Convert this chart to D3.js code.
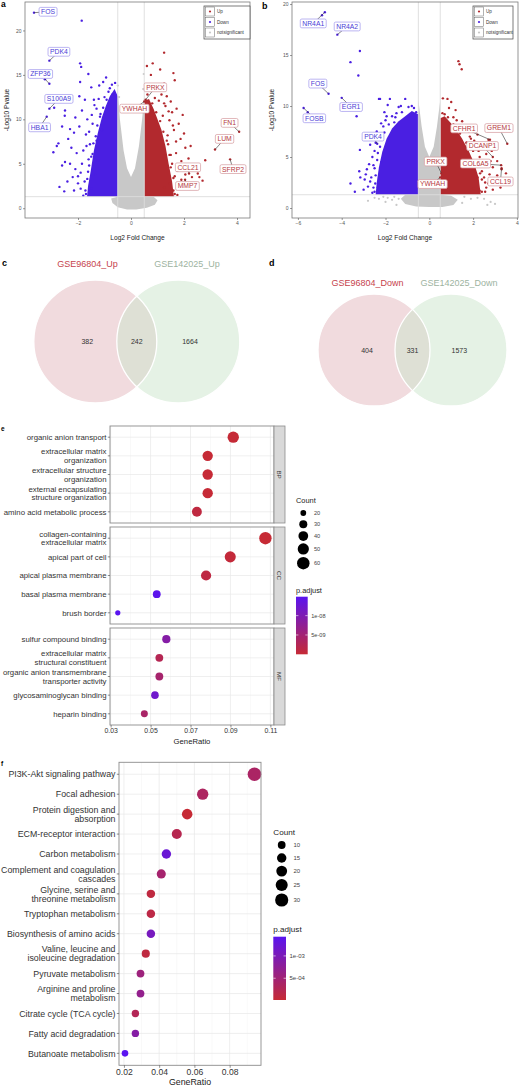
<!DOCTYPE html>
<html>
<head>
<meta charset="UTF-8">
<title>DEG volcano, Venn and enrichment</title>
<script src="https://cdn.jsdelivr.net/npm/d3@7"></script>
<style>
  body { margin: 0; background: #fff; }
</style>
</head>
<body>
<script>
// ---------------- data ----------------
// panel a (GSE96804) volcano: [log2FC, -log10 P]
var aDownPts = [[-1.86,21.1],[-1.92,16.3],[-1.88,15.9],[-1.61,15.1],[-1.92,14.2],[-1.74,12.2],[-0.94,14.7],
  [-2.49,11.0],[-2.5,10.4],[-2.37,7.8],[-2.74,7.3],[-2.8,7.0],[-2.93,6.3],[-2.52,1.9],[-2.49,5.2],[-2.3,5.0],
  [-2.1,4.4],[-2.05,6.2],[-1.7,8.3],[-1.45,9.5],[-1.3,11.2],[-1.2,13.8],[-1.05,14.2],[-2.2,3.5],[-1.9,4.0],
  [-1.8,6.5],[-1.6,5.5],[-1.55,7.2],[-1.95,9.2],[-2.15,8.5],[-1.4,12.2],[-1.65,10.0],[-1.75,3.0],[-1.5,2.2],
  [-2.0,2.8],[-2.3,8.9],[-1.85,11.0],[-2.6,4.8],[-1.35,3.8],[-1.25,5.4],[-1.1,8.8],[-1.5,13.6],[-1.0,12.5],
  [-0.8,13.5],[-0.7,12.8],[-3.25,14.5],[-2.9,11.3],[-1.72,2.0],[-1.62,4.1],[-1.45,6.1],[-1.3,7.6],[-1.15,10.6],
  [-1.7,1.6],[-1.65,3.3],[-1.58,4.8],[-1.5,5.8],[-1.42,7.3],[-1.33,8.1],[-1.27,9.3],[-1.17,10.3],[-1.05,11.3],
  [-0.92,12.2],[-0.85,13.1],[-0.72,13.9],[-0.6,14.1],[-1.8,1.4],[-1.9,2.2],[-2.0,3.6],[-1.85,5.0],[-1.68,7.0],
  [-1.58,8.6],[-1.48,10.5],[-1.38,11.6],[-1.22,12.3],[-2.15,2.0],[-2.4,3.0],[-2.7,2.4],[-2.25,6.8],[-2.6,9.2],
  [-1.95,12.6],[-2.1,10.2]];
var aUpPts = [[1.25,17.5],[0.82,16.3],[0.6,16.0],[1.1,15.6],[1.6,15.2],[1.65,14.4],[1.25,14.0],[1.35,12.6],
  [1.72,11.2],[1.45,9.9],[1.87,7.8],[1.62,8.8],[2.17,5.6],[2.8,5.4],[2.52,3.9],[2.3,3.5],[1.25,2.3],[1.45,2.8],
  [2.58,3.5],[0.75,15.0],[0.95,13.7],[1.55,10.8],[1.8,9.5],[1.7,6.2],[2.0,4.8],[1.9,3.2],[1.55,5.0],[1.4,7.2],
  [1.3,11.5],[1.6,2.0],[2.3,4.6],[2.05,6.8],[1.15,12.8],[2.4,2.6],[1.75,4.2],[1.5,12.0],[0.9,12.4],
  [1.78,2.4],[1.65,3.6],[1.5,6.0],[1.38,8.2],[1.2,10.4],
  [1.65,1.6],[1.6,3.4],[1.5,4.6],[1.45,6.0],[1.35,7.6],[1.22,8.6],[1.1,9.8],[0.95,10.8],[0.8,11.8],[0.62,12.8],
  [1.75,1.5],[1.85,2.6],[2.05,3.8],[1.9,5.3],[1.7,7.5],[1.58,9.3],[1.42,10.9],[1.25,11.8],[1.05,12.1],
  [2.2,2.2],[2.45,4.9],[2.7,3.1],[2.0,8.4],[2.25,7.0],[1.95,10.5]];
var aNsPts = [[-0.5,13.8],[0.48,15.1],[-0.45,12.5],[0.46,13.4]];
// dense cores of the point clouds (outline in data units)
var aDownCore = [[-0.5,1.3],[-0.5,12.6],[-0.62,13.4],[-0.8,12.6],[-0.95,11.5],[-1.1,10.2],[-1.25,8.5],
  [-1.4,6.5],[-1.52,4.2],[-1.62,2.5],[-1.66,1.3]];
var aUpCore = [[0.5,1.3],[0.5,12.1],[0.68,12.3],[0.85,11.2],[1.0,10.0],[1.15,8.8],[1.3,7.0],[1.42,5.0],
  [1.55,3.0],[1.62,1.3]];
var aNsCore = [[-0.5,13.3],[-0.42,10],[-0.28,6.5],[-0.15,4.5],[0,3.5],[0.15,4.5],[0.3,7],[0.42,10],
  [0.5,12.8],[0.5,1.3],[0.85,1.3],[1.0,0.9],[0.9,0.4],[0.6,0.05],[0.2,-0.15],[-0.15,-0.15],[-0.5,0.1],
  [-0.7,0.6],[-0.75,1.1],[-0.5,1.3]];
var aGenes  = ["FOS","PDK4","ZFP36","S100A9","HBA1","PRKX","YWHAH","FN1","LUM","SFRP2","CCL21","MMP7"];
var aGeneFC = [-3.66,-3.08,-3.08,-3.08,-3.18,0.55,0.5,4.08,3.17,3.74,2.19,2.04];
var aGeneP  = [22.0,16.6,14.0,11.2,10.3,12.2,12.0,8.6,6.6,5.5,3.9,3.2];
var aGeneDir = ["Down","Down","Down","Down","Down","Up","Up","Up","Up","Up","Up","Up"];
// repelled label centres, in data units
var aLabelAt = [[-3.13,22.1],[-2.72,17.6],[-3.42,15.1],[-2.72,12.3],[-3.45,9.1],[0.92,13.6],[0.13,11.2],
  [3.72,9.6],[3.53,7.8],[3.85,4.4],[2.15,4.6],[2.13,2.5]];

// panel b (GSE142025) volcano
var bDownPts = [[-4.9,18.9],[-5.55,9.4],[-3.17,15.4],[-3.6,14.3],[-3.24,13.0],[-3.32,9.0],[-3.17,5.7],
  [-3.2,3.6],[-3.15,3.0],[-2.9,3.3],[-2.3,10.7],[-2.25,10.7],[-1.8,10.7],[-1.1,10.7],[-1.9,10.1],[-2.0,8.6],
  [-2.5,3.9],[-2.47,2.4],[-2.6,5.0],[-2.2,4.5],[-2.8,2.1],[-2.4,7.5],[-2.15,7.0],[-1.5,9.3],[-1.3,10.0],
  [-0.8,10.0],[-0.6,9.4],[-2.7,6.2],[-2.35,2.0],[-2.1,8.0],[-1.7,9.0],[-3.0,1.8],[-2.65,3.0],[-2.45,6.4],
  [-2.35,5.4],[-2.55,2.0],[-2.05,9.4],[-1.6,8.4],[-2.75,4.3],
  [-2.5,1.6],[-2.45,3.2],[-2.38,4.7],[-2.25,6.0],[-2.05,7.4],[-1.85,8.2],[-1.55,8.9],[-1.25,9.4],[-0.95,9.9],
  [-0.7,9.8],[-2.6,1.5],[-2.7,2.6],[-2.55,4.2],[-2.5,5.6],[-2.3,6.9],[-2.2,8.3],[-1.95,9.0],[-1.4,9.9],
  [-2.85,3.8],[-2.95,2.8],[-3.4,1.6],[-3.6,2.4]];
var bUpPts = [[1.33,14.4],[1.38,14.1],[1.48,13.6],[0.62,10.75],[0.83,10.7],[1.0,10.4],[2.7,6.7],[3.3,3.8],
  [3.25,2.0],[2.9,4.0],[2.6,2.0],[2.4,2.8],[1.2,9.6],[0.7,9.2],[1.5,8.5],[1.8,7.5],[2.1,6.2],[2.3,5.0],
  [2.5,4.4],[2.2,3.0],[2.0,1.9],[1.6,8.0],[0.9,9.8],[2.75,3.3],[3.0,2.5],[2.85,5.6],[1.9,6.8],[2.45,6.0],
  [3.1,4.6],[2.2,7.2],[1.1,8.9],[2.6,5.3],[2.4,3.6],[2.55,2.5],[2.3,1.7],[1.35,7.6],[1.7,6.4],[2.0,5.6],
  [2.4,1.6],[2.32,3.4],[2.15,4.6],[1.95,5.8],[1.7,6.4],[1.4,7.3],[1.1,8.2],[0.85,8.9],[0.6,9.3],[2.55,1.6],
  [2.5,3.0],[2.35,4.2],[2.25,5.6],[2.05,6.6],[1.85,7.0],[1.45,7.9],[1.25,8.6],[2.9,1.8],[2.7,2.4],[3.1,3.2],
  [2.8,4.6],[3.4,2.9],[3.5,3.4]];
var bNsPts = [[-2.5,1.0],[-2.3,0.9],[-2.1,1.1],[-1.9,1.0],[-1.7,0.8],[-2.0,0.6],[-1.6,1.1],[1.6,1.1],
  [1.9,0.9],[2.2,1.0],[2.5,0.9],[2.8,0.6],[3.0,0.4],[1.5,0.5],[-1.5,0.3],[-2.8,0.7],[2.65,0.3],[-1.4,0.9]];
var bDownCore = [[-0.5,1.3],[-0.5,9.2],[-0.8,9.5],[-1.1,9.0],[-1.4,8.5],[-1.7,7.8],[-1.95,6.8],[-2.15,5.5],
  [-2.3,4.0],[-2.4,2.5],[-2.45,1.3]];
var bUpCore = [[0.5,1.3],[0.5,8.8],[0.7,9.0],[0.95,8.4],[1.2,7.8],[1.5,6.8],[1.8,5.6],[2.05,4.4],[2.25,3.0],
  [2.35,1.3]];
var bNsCore = [[-0.5,10.6],[-0.35,8],[-0.2,6],[0,5],[0.2,6],[0.35,8],[0.5,10.6],[0.5,1.3],[1.0,1.2],
  [1.3,0.8],[1.1,0.3],[0.6,0.1],[0,0.1],[-0.6,0.15],[-1.1,0.4],[-1.3,0.9],[-1.1,1.3],[-0.5,1.3]];
var bGenes  = ["NR4A1","NR4A2","FOS","FOSB","EGR1","PDK4","CFHR1","GREM1","DCANP1","COL6A5","CCL19","PRKX","YWHAH"];
var bGeneFC = [-4.77,-4.2,-4.6,-5.74,-4.0,-2.38,2.77,3.56,2.9,3.28,3.3,0.55,0.5];
var bGeneP  = [19.2,17.0,11.2,9.8,10.8,6.3,6.7,6.3,5.0,4.2,3.9,3.4,3.0];
var bGeneDir = ["Down","Down","Down","Down","Down","Down","Up","Up","Up","Up","Up","Up","Up"];
var bLabelAt = [[-5.3,18.1],[-3.75,17.8],[-5.09,12.2],[-5.25,8.8],[-3.57,9.9],[-2.57,7.0],[1.59,7.8],
  [3.18,7.84],[2.43,6.08],[2.11,4.36],[3.25,2.6],[0.29,4.56],[0.15,2.35]];

var volcanoXTicksA = [-2, 0, 2, 4];
var volcanoXTicksB = [-6, -4, -2, 0, 2, 4];
var volcanoYTicks = [0, 5, 10, 15, 20];
var fcCut = 0.5, pCut = 1.3;
var legendKeys = ["Up", "Down", "notsignificant"];

// Venn panels c, d
var vennUpNames = ["GSE96804_Up", "GSE142025_Up"];
var vennUpCounts = [382, 242, 1664];
var vennDownNames = ["GSE96804_Down", "GSE142025_Down"];
var vennDownCounts = [404, 331, 1573];

// panel e: GO enrichment
var goGroup = ["BP","BP","BP","BP","BP","CC","CC","CC","CC","CC","MF","MF","MF","MF","MF"];
var goTerm = ["organic anion transport","extracellular matrix\norganization","extracellular structure\norganization",
  "external encapsulating\nstructure organization","amino acid metabolic process",
  "collagen-containing\nextracellular matrix","apical part of cell","apical plasma membrane",
  "basal plasma membrane","brush border","sulfur compound binding",
  "extracellular matrix\nstructural constituent","organic anion transmembrane\ntransporter activity",
  "glycosaminoglycan binding","heparin binding"];
var goRatio = [0.0914,0.0786,0.0786,0.0786,0.0732,0.1075,0.0899,0.0778,0.0531,0.0336,0.0579,0.0544,0.0544,0.0522,0.0469];
var goCount = [51,44,44,44,41,59,49,43,29,18,31,29,29,28,25];
var goPadj = [1.2e-10,6e-11,6e-11,6e-11,9e-10,2e-12,4e-10,1.1e-9,1.46e-8,1.49e-8,9.0e-9,2.4e-9,4.4e-9,1.2e-8,4.0e-9];
var goXTicks = [0.03, 0.05, 0.07, 0.09, 0.11];
var goSizeBreaks = [20, 30, 40, 50, 60];
var goColorBreaks = [5e-9, 1e-8];

// panel f: KEGG enrichment
var keggTerm = ["PI3K-Akt signaling pathway","Focal adhesion","Protein digestion and\nabsorption",
  "ECM-receptor interaction","Carbon metabolism","Complement and coagulation\ncascades",
  "Glycine, serine and\nthreonine metabolism","Tryptophan metabolism","Biosynthesis of amino acids",
  "Valine, leucine and\nisoleucine degradation","Pyruvate metabolism","Arginine and proline\nmetabolism",
  "Citrate cycle (TCA cycle)","Fatty acid degradation","Butanoate metabolism"];
var keggRatio = [0.0941,0.0647,0.0559,0.05,0.0441,0.0412,0.0353,0.0353,0.0353,0.0324,0.0294,0.0294,0.0265,0.0265,0.0206];
var keggCount = [32,22,19,17,15,14,12,12,12,11,10,10,9,9,7];
var keggPadj = [3.7e-4,3.4e-4,1.3e-5,2.2e-4,1.22e-3,4.4e-4,1.0e-4,1.4e-4,1.05e-3,1.0e-4,5.5e-4,6.8e-4,2.6e-4,8.6e-4,1.43e-3];
var keggXTicks = [0.02, 0.04, 0.06, 0.08];
var keggSizeBreaks = [10, 15, 20, 25, 30];
var keggColorBreaks = [5e-4, 1e-3];

// ---------------- drawing ----------------
var font = "'Liberation Sans', Arial, Helvetica, sans-serif";
var colUp = "#b2292e", colDown = "#4a1fe2", colNs = "#c8c8c8";
var colLow = "#c62a35", colHigh = "#5a14f0";

var svg = d3.select("body").append("svg")
  .attr("width", 520).attr("height", 1086)
  .attr("font-family", font);

function panelLetter(s, x, y, size) {
  svg.append("text").attr("x", x).attr("y", y).attr("font-size", size)
    .attr("font-weight", "bold").attr("fill", "#000").text(s);
}

function volcano(o) {
  var g = svg.append("g");
  var x = d3.scaleLinear().domain(o.xDom).range([o.left, o.right]);
  var y = d3.scaleLinear().domain(o.yDom).range([o.bottom, o.top]);

  g.append("clipPath").attr("id", o.id).append("rect")
    .attr("x", o.left).attr("y", o.top)
    .attr("width", o.right - o.left).attr("height", o.bottom - o.top);
  var plot = g.append("g").attr("clip-path", "url(#" + o.id + ")");
  var outline = d3.line().x(function(d){ return x(d[0]); }).y(function(d){ return y(d[1]); })
    .curve(d3.curveLinearClosed);

  plot.append("path").attr("d", outline(o.nsCore)).attr("fill", colNs);
  plot.selectAll(".ns").data(o.nsPts).join("circle")
    .attr("cx", function(d){ return x(d[0]); }).attr("cy", function(d){ return y(d[1]); })
    .attr("r", 1.1).attr("fill", colNs);
  plot.append("path").attr("d", outline(o.downCore)).attr("fill", colDown);
  plot.append("path").attr("d", outline(o.upCore)).attr("fill", colUp);
  plot.selectAll(".dn").data(o.downPts).join("circle")
    .attr("cx", function(d){ return x(d[0]); }).attr("cy", function(d){ return y(d[1]); })
    .attr("r", 1.2).attr("fill", colDown);
  plot.selectAll(".up").data(o.upPts).join("circle")
    .attr("cx", function(d){ return x(d[0]); }).attr("cy", function(d){ return y(d[1]); })
    .attr("r", 1.2).attr("fill", colUp);

  // threshold lines
  plot.selectAll(".vl").data([-fcCut, fcCut]).join("line")
    .attr("x1", x).attr("x2", x).attr("y1", o.top).attr("y2", o.bottom)
    .attr("stroke", "#dcdcdc").attr("stroke-width", 0.9);
  plot.append("line").attr("x1", o.left).attr("x2", o.right)
    .attr("y1", y(pCut)).attr("y2", y(pCut))
    .attr("stroke", "#dcdcdc").attr("stroke-width", 0.9);

  // labelled genes
  var genes = o.genes.map(function(gn, i){
    return { gene: gn, fc: o.fc[i], p: o.p[i], dir: o.dir[i], at: o.labelAt[i] };
  });
  plot.selectAll(".gp").data(genes).join("circle")
    .attr("cx", function(d){ return x(d.fc); }).attr("cy", function(d){ return y(d.p); })
    .attr("r", 1.2).attr("fill", function(d){ return d.dir === "Up" ? colUp : colDown; });
  var lab = g.selectAll(".lab").data(genes).join("g");
  lab.append("line")
    .attr("x1", function(d){ return x(d.at[0]); }).attr("y1", function(d){ return y(d.at[1]); })
    .attr("x2", function(d){ return x(d.fc); }).attr("y2", function(d){ return y(d.p); })
    .attr("stroke", "#333").attr("stroke-width", 0.6);
  var rects = lab.append("rect")
    .attr("fill", "#fff").attr("rx", 1.5)
    .attr("stroke", function(d){ return d.dir === "Up" ? "#d49a9d" : "#9f95ec"; })
    .attr("stroke-width", 0.7);
  var texts = lab.append("text")
    .attr("x", function(d){ return x(d.at[0]); }).attr("y", function(d){ return y(d.at[1]) + 2.4; })
    .attr("text-anchor", "middle").attr("font-size", 6.8)
    .attr("fill", function(d){ return d.dir === "Up" ? "#b5383e" : "#4a3cd6"; })
    .text(function(d){ return d.gene; });
  texts.each(function(d){
    var w = this.getComputedTextLength();
    d.w = w + 4;
  });
  rects.attr("x", function(d){ return x(d.at[0]) - d.w / 2; })
    .attr("y", function(d){ return y(d.at[1]) - 4.4; })
    .attr("width", function(d){ return d.w; }).attr("height", 8.8);

  // border
  g.append("rect").attr("x", o.left).attr("y", o.top)
    .attr("width", o.right - o.left).attr("height", o.bottom - o.top)
    .attr("fill", "none").attr("stroke", "#7a7a7a").attr("stroke-width", 0.8);

  // axes
  var ax = g.append("g").attr("transform", "translate(0," + o.bottom + ")")
    .call(d3.axisBottom(x).tickValues(o.xTicks).tickSize(2).tickPadding(1.5));
  var ay = g.append("g").attr("transform", "translate(" + o.left + ",0)")
    .call(d3.axisLeft(y).tickValues(volcanoYTicks).tickSize(2).tickPadding(1.5));
  [ax, ay].forEach(function(a){
    a.attr("font-size", 5).attr("font-family", font);
    a.select(".domain").remove();
    a.selectAll("line").attr("stroke", "#555").attr("stroke-width", 0.6);
    a.selectAll("text").attr("fill", "#555");
  });
  g.append("text").attr("x", (o.left + o.right) / 2).attr("y", 239.5)
    .attr("text-anchor", "middle").attr("font-size", 6.6).attr("fill", "#222")
    .text("Log2 Fold Change");
  g.append("text").attr("transform", "translate(" + o.yTitleX + "," + ((o.top + o.bottom) / 2) + ") rotate(-90)")
    .attr("text-anchor", "middle").attr("font-size", 6.6).attr("fill", "#222")
    .text("-Log10 Pvalue");

  // legend
  var lg = g.append("g").attr("transform", "translate(" + o.legX + ",6)");
  lg.append("rect").attr("width", o.legW).attr("height", 33)
    .attr("fill", "#fff").attr("stroke", "#444").attr("stroke-width", 0.7);
  var keyCol = [colUp, colDown, colNs];
  legendKeys.forEach(function(k, i){
    var cy = 5.5 + i * 10.5;
    lg.append("rect").attr("x", 1.5).attr("y", cy - 4.5).attr("width", 9).attr("height", 9)
      .attr("fill", "#fff").attr("stroke", "#666").attr("stroke-width", 0.5);
    lg.append("circle").attr("cx", 6).attr("cy", cy).attr("r", 1.1).attr("fill", keyCol[i]);
    lg.append("text").attr("x", 13).attr("y", cy + 1.6).attr("font-size", 4.6)
      .attr("fill", "#333").text(k);
  });
}

function venn(o) {
  var g = svg.append("g");
  var fills = ["#e3b8bd", "#cbe5cb"];
  o.cx.forEach(function(cx, i){
    g.append("circle").attr("cx", cx).attr("cy", o.cy).attr("r", o.r)
      .attr("fill", fills[i]).attr("fill-opacity", 0.5);
  });
  o.cx.forEach(function(cx){
    g.append("circle").attr("cx", cx).attr("cy", o.cy).attr("r", o.r)
      .attr("fill", "none").attr("stroke", "#fff").attr("stroke-width", 1.3);
  });
  var nameCol = ["#c6434d", "#9db39f"];
  o.names.forEach(function(n, i){
    g.append("text").attr("x", o.nameX[i]).attr("y", o.nameY)
      .attr("text-anchor", "middle").attr("font-size", 9).attr("fill", nameCol[i]).text(n);
  });
  var pos = [o.cx[0] - o.off[0], (o.cx[0] + o.cx[1]) / 2, o.cx[1] + o.off[1]];
  o.counts.forEach(function(c, i){
    g.append("text").attr("x", pos[i]).attr("y", o.cy + 2.6)
      .attr("text-anchor", "middle").attr("font-size", 7).attr("fill", "#333").text(c);
  });
}

function sci(v) {
  var s = v.toExponential(0).split("e");
  var e = parseInt(s[1], 10);
  return s[0] + "e" + (e < 0 ? "-" : "+") + String(Math.abs(e)).padStart(2, "0");
}

function multiline(sel, lines, size, lh) {
  lines.forEach(function(l, i){
    sel.append("tspan").attr("x", sel.attr("x"))
      .attr("dy", i === 0 ? (-(lines.length - 1) / 2 * lh + size * 0.36) : lh)
      .text(l);
  });
}

function dotplot(o) {
  var g = svg.append("g");
  var x = d3.scaleLinear().domain(o.xDom).range([o.left, o.right]);
  var r = d3.scaleRadial().domain(d3.extent(o.count)).range(o.rRange);
  var col = d3.scaleLinear().domain(d3.extent(o.padj)).range([colLow, colHigh]);
  var rows = o.term.map(function(t, i){
    return { term: t, ratio: o.ratio[i], count: o.count[i], padj: o.padj[i], grp: o.group ? o.group[i] : "all" };
  });
  var minor = o.ticks.slice(0, -1).map(function(t, i){ return (t + o.ticks[i + 1]) / 2; });
  if (o.ticks[o.ticks.length - 1] + (o.ticks[1] - o.ticks[0]) / 2 < o.xDom[1])
    minor.push(o.ticks[o.ticks.length - 1] + (o.ticks[1] - o.ticks[0]) / 2);

  o.panels.forEach(function(p){
    var sub = rows.filter(function(d){ return d.grp === p.name; });
    var y = d3.scalePoint().domain(sub.map(function(d){ return d.term; }))
      .range([p.top, p.bottom]).padding(0.6);
    var pg = g.append("g");
    pg.selectAll(".mi").data(minor).join("line")
      .attr("x1", x).attr("x2", x).attr("y1", p.top).attr("y2", p.bottom)
      .attr("stroke", "#f3f3f3").attr("stroke-width", 0.5);
    pg.selectAll(".ma").data(o.ticks).join("line")
      .attr("x1", x).attr("x2", x).attr("y1", p.top).attr("y2", p.bottom)
      .attr("stroke", "#e8e8e8").attr("stroke-width", 0.7);
    pg.selectAll(".hr").data(sub).join("line")
      .attr("x1", o.left).attr("x2", o.right)
      .attr("y1", function(d){ return y(d.term); }).attr("y2", function(d){ return y(d.term); })
      .attr("stroke", "#e8e8e8").attr("stroke-width", 0.7);
    pg.selectAll(".dot").data(sub).join("circle")
      .attr("cx", function(d){ return x(d.ratio); }).attr("cy", function(d){ return y(d.term); })
      .attr("r", function(d){ return r(d.count); })
      .attr("fill", function(d){ return col(d.padj); });
    pg.append("rect").attr("x", o.left).attr("y", p.top)
      .attr("width", o.right - o.left).attr("height", p.bottom - p.top)
      .attr("fill", "none").attr("stroke", "#8c8c8c").attr("stroke-width", 0.9);
    if (o.strip) {
      pg.append("rect").attr("x", o.right).attr("y", p.top)
        .attr("width", o.strip).attr("height", p.bottom - p.top)
        .attr("fill", "#d9d9d9").attr("stroke", "#8c8c8c").attr("stroke-width", 0.8);
      pg.append("text")
        .attr("transform", "translate(" + (o.right + o.strip / 2) + "," + ((p.top + p.bottom) / 2) + ") rotate(90)")
        .attr("text-anchor", "middle").attr("dy", "0.35em")
        .attr("font-size", 6.2).attr("fill", "#333").text(p.name);
    }
    // y ticks and labels
    pg.selectAll(".yt").data(sub).join("line")
      .attr("x1", o.left - 2.2).attr("x2", o.left)
      .attr("y1", function(d){ return y(d.term); }).attr("y2", function(d){ return y(d.term); })
      .attr("stroke", "#444").attr("stroke-width", 0.6);
    pg.selectAll(".yl").data(sub).join("text")
      .attr("x", o.left - 3.5).attr("y", function(d){ return y(d.term); })
      .attr("text-anchor", "end").attr("font-size", o.labelSize).attr("fill", "#333")
      .each(function(d){ multiline(d3.select(this), d.term.split("\n"), o.labelSize, o.lineH); });
  });

  var last = o.panels[o.panels.length - 1];
  var ax = g.append("g").attr("transform", "translate(0," + last.bottom + ")")
    .call(d3.axisBottom(x).tickValues(o.ticks).tickSize(2.5).tickPadding(1)
      .tickFormat(d3.format(".2f")));
  ax.attr("font-size", o.tickSize).attr("font-family", font);
  ax.select(".domain").remove();
  ax.selectAll("line").attr("stroke", "#444").attr("stroke-width", 0.6);
  ax.selectAll("text").attr("fill", "#333");
  g.append("text").attr("x", (o.left + o.right) / 2).attr("y", o.titleY)
    .attr("text-anchor", "middle").attr("font-size", o.titleSize).attr("fill", "#222")
    .text("GeneRatio");

  // size legend
  var L = o.legend;
  g.append("text").attr("x", L.x).attr("y", L.countY).attr("font-size", L.titleSize)
    .attr("fill", "#222").text("Count");
  var yy = L.firstY, prevH = null;
  o.sizeBreaks.forEach(function(b){
    var rr = r(b), h = Math.max(L.keyH, 2 * rr + 2.4);
    if (prevH !== null) yy += (prevH + h) / 2;
    prevH = h;
    g.append("circle").attr("cx", L.cx).attr("cy", yy).attr("r", rr).attr("fill", "#000");
    g.append("text").attr("x", L.labX).attr("y", yy + L.labSize * 0.36)
      .attr("font-size", L.labSize).attr("fill", "#444").text(b);
  });

  // colour bar
  g.append("text").attr("x", L.x).attr("y", L.padjY).attr("font-size", L.titleSize)
    .attr("fill", "#222").text("p.adjust");
  var ext = d3.extent(o.padj);
  var gid = "grad" + o.id;
  var grad = svg.append("defs").append("linearGradient").attr("id", gid)
    .attr("x1", 0).attr("y1", 1).attr("x2", 0).attr("y2", 0);
  d3.range(0, 1.0001, 0.1).forEach(function(t){
    grad.append("stop").attr("offset", t).attr("stop-color", col(ext[0] + t * (ext[1] - ext[0])));
  });
  g.append("rect").attr("x", L.x).attr("y", L.barTop).attr("width", L.barW)
    .attr("height", L.barBottom - L.barTop).attr("fill", "url(#" + gid + ")");
  var by = d3.scaleLinear().domain(ext).range([L.barBottom, L.barTop]);
  o.colorBreaks.forEach(function(b){
    g.append("line").attr("x1", L.x).attr("x2", L.x + 2.4).attr("y1", by(b)).attr("y2", by(b))
      .attr("stroke", "#fff").attr("stroke-width", 0.6);
    g.append("line").attr("x1", L.x + L.barW - 2.4).attr("x2", L.x + L.barW).attr("y1", by(b)).attr("y2", by(b))
      .attr("stroke", "#fff").attr("stroke-width", 0.6);
    g.append("text").attr("x", L.x + L.barW + 3.5).attr("y", by(b) + L.labSize * 0.36)
      .attr("font-size", L.labSize).attr("fill", "#444").text(sci(b));
  });
}

// ---- panels a, b ----
volcano({ id: "clipA", left: 25, right: 250, top: 2, bottom: 218, xDom: [-4.0, 4.49], yDom: [-1.1, 23.2],
  xTicks: volcanoXTicksA, downPts: aDownPts, upPts: aUpPts, nsPts: aNsPts,
  downCore: aDownCore, upCore: aUpCore, nsCore: aNsCore,
  genes: aGenes, fc: aGeneFC, p: aGeneP, dir: aGeneDir, labelAt: aLabelAt,
  yTitleX: 8.5, legX: 204, legW: 46 });
volcano({ id: "clipB", left: 292, right: 518, top: 2, bottom: 218, xDom: [-6.27, 4.05], yDom: [-0.98, 20.2],
  xTicks: volcanoXTicksB, downPts: bDownPts, upPts: bUpPts, nsPts: bNsPts,
  downCore: bDownCore, upCore: bUpCore, nsCore: bNsCore,
  genes: bGenes, fc: bGeneFC, p: bGeneP, dir: bGeneDir, labelAt: bLabelAt,
  yTitleX: 274, legX: 473, legW: 40 });

// ---- panels c, d ----
venn({ cx: [95.3, 178.3], cy: 341.5, r: 61.5, names: vennUpNames, nameX: [87.5, 187], nameY: 266.5,
  counts: vennUpCounts, off: [8, 11.7] });
venn({ cx: [374, 451], cy: 350, r: 56, names: vennDownNames, nameX: [367.5, 459], nameY: 285.5,
  counts: vennDownCounts, off: [7, 8.3] });

// ---- panel e ----
dotplot({ id: "E", term: goTerm, group: goGroup, ratio: goRatio, count: goCount, padj: goPadj,
  xDom: [0.0297, 0.1118], left: 110, right: 274, strip: 11, ticks: goXTicks,
  panels: [{ name: "BP", top: 426, bottom: 523 }, { name: "CC", top: 527, bottom: 624 }, { name: "MF", top: 628, bottom: 725 }],
  rRange: [2.6, 6.2], labelSize: 7.8, lineH: 8.4, tickSize: 6.9, titleSize: 7.7, titleY: 743.5,
  sizeBreaks: goSizeBreaks, colorBreaks: goColorBreaks,
  legend: { x: 296, countY: 503, firstY: 513, cx: 303.3, labX: 314, keyH: 11.3, labSize: 5.6, titleSize: 7.4,
    padjY: 593, barTop: 596.7, barBottom: 654.3, barW: 11.7 } });

// ---- panel f ----
dotplot({ id: "F", term: keggTerm, ratio: keggRatio, count: keggCount, padj: keggPadj,
  xDom: [0.0172, 0.0978], left: 119, right: 261, strip: 0, ticks: keggXTicks,
  panels: [{ name: "all", top: 762.3, bottom: 1065.3 }],
  rRange: [3.3, 6.8], labelSize: 8.8, lineH: 9, tickSize: 8.6, titleSize: 8.8, titleY: 1084.7,
  sizeBreaks: keggSizeBreaks, colorBreaks: keggColorBreaks,
  legend: { x: 273.3, countY: 834.5, firstY: 845, cx: 281.7, labX: 293.5, keyH: 13, labSize: 6, titleSize: 8.1,
    padjY: 932, barTop: 936.7, barBottom: 1000, barW: 12.7 } });

panelLetter("a", 1, 6.5, 8.5);
panelLetter("b", 262, 9, 9);
panelLetter("c", 2, 265.5, 9);
panelLetter("d", 269, 265.5, 9);
panelLetter("e", 1, 431, 6.5);
panelLetter("f", 1, 766, 6.5);
</script>
</body>
</html>
